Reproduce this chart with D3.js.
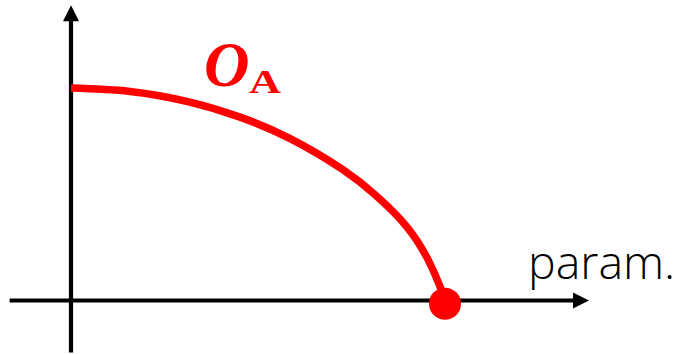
<!DOCTYPE html>
<html>
<head>
<meta charset="utf-8">
<script src="https://cdn.jsdelivr.net/npm/d3@7"></script>
<style>
  html, body { margin: 0; padding: 0; background: #fff; }
  svg { display: block; }
</style>
</head>
<body>
<svg id="chart" width="679" height="354"></svg>
<script>
// ---- data ----
const curveParam = [0, 0.158, 0.318, 0.452, 0.586, 0.725, 0.816, 0.898, 0.955, 0.987, 1.0];
const curveValue = [1, 0.984, 0.934, 0.863, 0.762, 0.618, 0.493, 0.347, 0.191, 0.064, 0.0];
const endPoint = [1.0, -0.015];
const xAxisExtent = [-0.164, 1.385];
const yAxisExtent = [-0.245, 1.39];
const curveLabel = "O";
const curveLabelSub = "A";
const xAxisLabel = "param.";

const svg = d3.select("#chart");
const x = d3.scaleLinear().domain([0, 1]).range([71, 445]);
const y = d3.scaleLinear().domain([0, 1]).range([300.5, 88]);

// axes
const axisColor = "#000";
svg.append("line")
  .attr("x1", x(xAxisExtent[0])).attr("x2", x(xAxisExtent[1]) - 14)
  .attr("y1", y(0)).attr("y2", y(0))
  .attr("stroke", axisColor).attr("stroke-width", 4.2);
svg.append("line")
  .attr("x1", x(0)).attr("x2", x(0))
  .attr("y1", y(yAxisExtent[0])).attr("y2", y(yAxisExtent[1]) + 14)
  .attr("stroke", axisColor).attr("stroke-width", 4.2);

// arrowheads
const xt = x(xAxisExtent[1]), yy = y(0);
svg.append("path")
  .attr("d", `M${xt},${yy} L${xt - 16},${yy - 8} L${xt - 16},${yy + 8} Z`)
  .attr("fill", axisColor);
const yt = y(yAxisExtent[1]), xx = x(0);
svg.append("path")
  .attr("d", `M${xx},${yt} L${xx - 8},${yt + 16} L${xx + 8},${yt + 16} Z`)
  .attr("fill", axisColor);

// curve
const pts = curveParam.map((p, i) => [p, curveValue[i]]);
const line = d3.line()
  .x(d => x(d[0])).y(d => y(d[1]))
  .curve(d3.curveNatural);
svg.append("path")
  .datum(pts)
  .attr("d", line)
  .attr("fill", "none")
  .attr("stroke", "#ff0000")
  .attr("stroke-width", 7.5)
  .attr("stroke-linecap", "butt");

// end point
svg.append("circle")
  .attr("cx", x(endPoint[0])).attr("cy", y(endPoint[1]))
  .attr("r", 16)
  .attr("fill", "#ff0000");

// labels
svg.append("text")
  .attr("x", 204).attr("y", 86)
  .attr("font-family", "Liberation Serif, serif")
  .attr("font-style", "italic").attr("font-weight", "bold")
  .attr("font-size", 63)
  .attr("fill", "#ff0000")
  .text(curveLabel);
svg.append("text")
  .attr("x", 249).attr("y", 93)
  .attr("font-family", "Liberation Serif, serif")
  .attr("font-weight", "bold")
  .attr("font-size", 34)
  .attr("textLength", 32).attr("lengthAdjust", "spacingAndGlyphs")
  .attr("fill", "#ff0000")
  .text(curveLabelSub);

svg.append("text")
  .attr("x", 528).attr("y", 279)
  .attr("font-family", "Open Sans, sans-serif")
  .attr("font-weight", 300)
  .attr("font-size", 46.5)
  .attr("fill", "#000")
  .text(xAxisLabel);
</script>
</body>
</html>
